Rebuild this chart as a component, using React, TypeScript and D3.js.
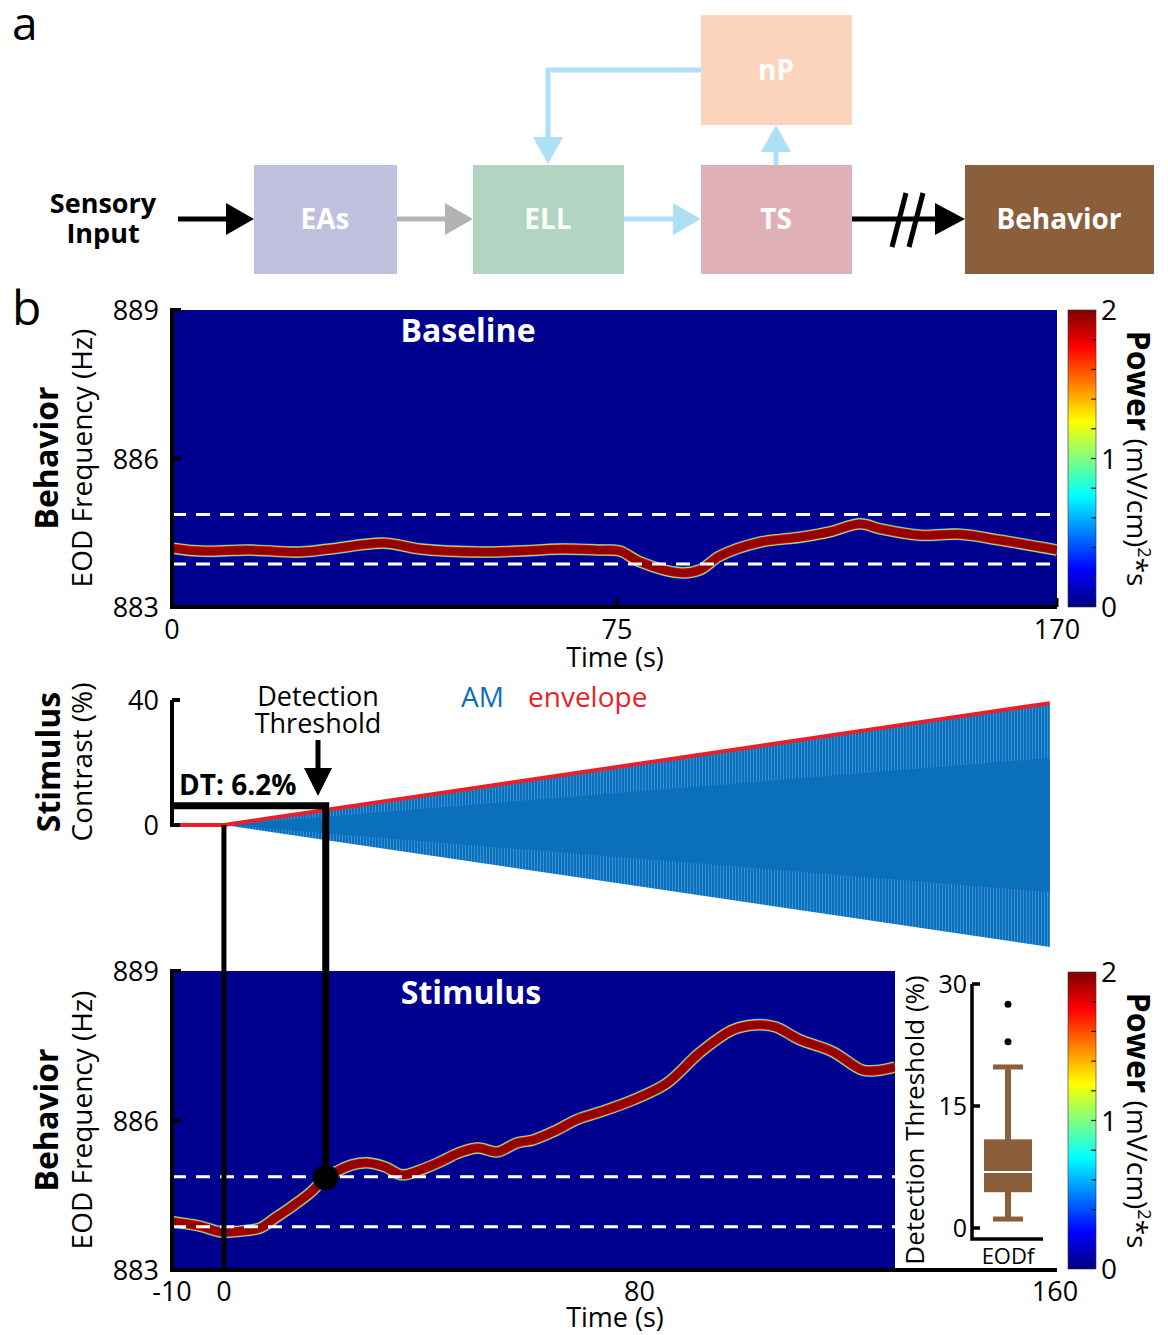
import React, { useEffect } from "react";
import * as d3 from "d3";

// ridge of the baseline spectrogram: time (s) and EOD frequency (Hz)
const baselineTime = [0, 4.7, 13.1, 21.6, 26.6, 35.9, 41.8, 51.9, 58.7, 65.4, 72.1, 75.6, 80, 88.6, 92.9, 97.2, 105.9, 114.5, 121, 127.5, 131.8, 140.4, 149.1, 157.7, 170];
const baselineFreq = [884.19, 884.13, 884.15, 884.11, 884.17, 884.29, 884.17, 884.11, 884.13, 884.17, 884.15, 884.13, 883.91, 883.69, 883.75, 884.03, 884.31, 884.41, 884.52, 884.68, 884.58, 884.45, 884.47, 884.35, 884.15];

// ridge of the stimulus spectrogram
const stimTime = [-10, -4.6, -0.4, 3.1, 6.9, 9.8, 12.9, 16.6, 19.6, 22.3, 24.7, 27.5, 31.0, 34.3, 37.9, 41.6, 45.2, 48.9, 52.6, 56.4, 59.5, 63.7, 68.0, 72.4, 78.7, 85.3, 91.6, 98.0, 102.6, 106.1, 110.9, 117.2, 123.0, 126.3, 129.2];
const stimFreq = [883.97, 883.88, 883.76, 883.78, 883.84, 884.04, 884.26, 884.55, 884.85, 885.01, 885.11, 885.15, 885.07, 884.91, 885.01, 885.17, 885.35, 885.45, 885.37, 885.55, 885.61, 885.79, 886.02, 886.17, 886.41, 886.75, 887.36, 887.82, 887.92, 887.88, 887.62, 887.38, 887.01, 887.01, 887.07];

// AM stimulus envelope (contrast %)
const envTime = [-10, 0, 159];
const envContrast = [0, 0, 39];

// detection threshold
const dtTime = 19.6;
const dtContrast = 6.2;
const dtFreq = 884.85;
const bandFreqs = [883.87, 884.87];

// inset boxplot: whisker low, q1, median, q3, whisker high
const boxValues = [1.1, 4.4, 6.9, 10.9, 19.8];
const outliers = [22.9, 27.5];

const freqTicks = [883, 886, 889];
const baseTimeTicks = [0, 75, 170];
const stimTimeTicks = [-10, 0, 80, 160];
const contrastTicks = [0, 40];
const dtTicks = [0, 15, 30];
const powerTicks = [0, 1, 2];
const powerMinor = [0.2, 0.4, 0.6, 0.8, 1, 1.2, 1.4, 1.6, 1.8];

const FONT = "'Open Sans', 'Noto Sans', sans-serif";
const SPEC_BLUE = "#00008f";

const jet: [number, string][] = [
  [0, "#00007f"], [0.125, "#0000ff"], [0.375, "#00ffff"],
  [0.625, "#ffff00"], [0.875, "#ff0000"], [1, "#7f0000"],
];

// outer -> inner strokes to fake a spectrogram ridge
const ridgeLayers = [
  { w: 12, c: "#1e90ff" },
  { w: 11, c: "#40ffd0" },
  { w: 10.2, c: "#ffe000" },
  { w: 9.4, c: "#ff2000" },
  { w: 8, c: "#940000" },
];

function Ridge({ d, clip }: { d: string; clip: string }) {
  return (
    <g clipPath={`url(#${clip})`}>
      {ridgeLayers.map((l, i) => (
        <path key={i} d={d} fill="none" stroke={l.c} strokeWidth={l.w} strokeLinejoin="round" />
      ))}
    </g>
  );
}

function Colorbar({ y, x0 }: { y: d3.ScaleLinear<number, number>; x0: number }) {
  const [b, t] = y.range();
  return (
    <g>
      <rect x={x0} y={t} width={28} height={b - t} fill="url(#jetGrad)" stroke="#333" strokeWidth={0.6} />
      {powerMinor.map((v) => (
        <line key={v} x1={x0 + 23} x2={x0 + 28} y1={y(v)} y2={y(v)} stroke="#222" strokeWidth={1.2} />
      ))}
      {powerTicks.map((v) => (
        <text key={v} x={x0 + 33} y={y(v) + 10} fontSize={28} fontFamily={FONT}>{v}</text>
      ))}
      <text transform={`translate(${x0 + 59},${(t + b) / 2}) rotate(90)`} textAnchor="middle" fontSize={28} fontFamily={FONT}>
        <tspan fontWeight="bold" fontSize={32}>Power</tspan>
        <tspan> (mV/cm)</tspan>
        <tspan fontSize={18} dy={-11}>2</tspan>
        <tspan dy={11}>*s</tspan>
      </text>
    </g>
  );
}

function Arrow({ x1, y1, x2, y2, color, w = 5, head = 28, half = 16 }: any) {
  const ang = Math.atan2(y2 - y1, x2 - x1);
  const bx = x2 - head * Math.cos(ang), by = y2 - head * Math.sin(ang);
  const px = -Math.sin(ang) * half, py = Math.cos(ang) * half;
  return (
    <g>
      <line x1={x1} y1={y1} x2={bx + Math.cos(ang) * 2} y2={by + Math.sin(ang) * 2} stroke={color} strokeWidth={w} />
      <polygon points={`${x2},${y2} ${bx + px},${by + py} ${bx - px},${by - py}`} fill={color} />
    </g>
  );
}

export default function App() {
  useEffect(() => {
    document.body.style.margin = "0";
  }, []);

  const xBase = d3.scaleLinear().domain([0, 75, 170]).range([172, 617, 1057]);
  const yBase = d3.scaleLinear().domain([883, 889]).range([607, 310]);
  const xStim = d3.scaleLinear().domain([-10, 160]).range([172, 1055]);
  const yStim = d3.scaleLinear().domain([883, 889]).range([1270, 971]);
  const yCon = d3.scaleLinear().domain([0, 40]).range([825, 700]);
  const yDT = d3.scaleLinear().domain([0, 30]).range([1228, 984]);
  const pTop = d3.scaleLinear().domain([0, 2]).range([607, 310]);
  const pBot = d3.scaleLinear().domain([0, 2]).range([1269, 972]);

  const baseLine = d3.line<number>()
    .x((_, i) => xBase(baselineTime[i]))
    .y((d) => yBase(d))
    .curve(d3.curveCatmullRom.alpha(0.5))(baselineFreq) as string;
  const stimLine = d3.line<number>()
    .x((_, i) => xStim(stimTime[i]))
    .y((d) => yStim(d))
    .curve(d3.curveCatmullRom.alpha(0.5))(stimFreq) as string;

  const amIdx = d3.range(1, envTime.length);
  const amArea = d3.area<number>()
    .x((i) => xStim(envTime[i]))
    .y0((i) => yCon(-envContrast[i]))
    .y1((i) => yCon(envContrast[i]))(amIdx) as string;
  const amCore = d3.area<number>()
    .x((i) => xStim(envTime[i]))
    .y0((i) => yCon(-envContrast[i] * 0.55))
    .y1((i) => yCon(envContrast[i] * 0.55))(amIdx) as string;
  const envLine = d3.line<number>()
    .x((_, i) => xStim(envTime[i]))
    .y((d) => yCon(d))(envContrast) as string;

  const [bLo, bQ1, bMed, bQ3, bHi] = boxValues;
  const boxX = 1008;

  const tick = { fontSize: 27, fontFamily: FONT } as const;

  return (
    <svg width={1168} height={1335} style={{ display: "block", background: "#fff" }}>
      <defs>
        <linearGradient id="jetGrad" x1="0" y1="1" x2="0" y2="0">
          {jet.map(([o, c]) => <stop key={o} offset={o} stopColor={c} />)}
        </linearGradient>
        <pattern id="amStripe" width={3} height={10} patternUnits="userSpaceOnUse">
          <rect width={3} height={10} fill="#0a70bc" />
          <rect width={1} height={10} fill="#3a90d0" />
        </pattern>
        <clipPath id="clipTop">
          <rect x={172} y={310} width={885} height={297} />
        </clipPath>
        <clipPath id="clipBot">
          <rect x={172} y={971} width={723} height={299} />
        </clipPath>
      </defs>

      {/* ---------- panel a ---------- */}
      <text x={12} y={40} fontSize={46} fontFamily={FONT}>a</text>

      <rect x={701} y={15} width={151} height={110} fill="#fcd3bc" />
      <rect x={254} y={165} width={143} height={109} fill="#bfc0de" />
      <rect x={473} y={165} width={151} height={109} fill="#b3d3c3" />
      <rect x={701} y={165} width={151} height={109} fill="#dfb1b7" />
      <rect x={965} y={165} width={189} height={109} fill="#8b5e3c" />

      <g fontFamily={FONT} fontWeight="bold" fontSize={28} fill="#fff" textAnchor="middle">
        <text x={776} y={80}>nP</text>
        <text x={325} y={229}>EAs</text>
        <text x={548} y={229}>ELL</text>
        <text x={776} y={229}>TS</text>
        <text x={1059} y={229}>Behavior</text>
      </g>
      <g fontFamily={FONT} fontWeight="bold" fontSize={27} textAnchor="middle">
        <text x={103} y={213}>Sensory</text>
        <text x={103} y={243}>Input</text>
      </g>

      <Arrow x1={178} y1={219} x2={254} y2={219} color="#000" />
      <Arrow x1={397} y1={219} x2={473} y2={219} color="#b3b3b3" />
      <Arrow x1={624} y1={219} x2={701} y2={219} color="#aee0f5" />
      <Arrow x1={776} y1={165} x2={776} y2={125} color="#aee0f5" head={27} half={15} />
      <path d="M701,70 H548 V140" fill="none" stroke="#aee0f5" strokeWidth={5} />
      <Arrow x1={548} y1={135} x2={548} y2={164} color="#aee0f5" head={27} half={15} />
      <Arrow x1={852} y1={219} x2={965} y2={219} color="#000" head={30} half={16} />
      <line x1={892} y1={247} x2={906} y2={193} stroke="#000" strokeWidth={5} />
      <line x1={909} y1={247} x2={923} y2={193} stroke="#000" strokeWidth={5} />

      {/* ---------- panel b ---------- */}
      <text x={12} y={325} fontSize={48} fontFamily={FONT}>b</text>

      {/* baseline spectrogram */}
      <rect x={172} y={310} width={885} height={297} fill={SPEC_BLUE} />
      <Ridge d={baseLine} clip="clipTop" />
      {bandFreqs.map((f) => (
        <line key={f} x1={172} x2={1057} y1={yBase(f)} y2={yBase(f)} stroke="#fff" strokeWidth={3} strokeDasharray="14 10" />
      ))}
      <text x={468} y={342} textAnchor="middle" fill="#fff" fontWeight="bold" fontSize={32} fontFamily={FONT}>Baseline</text>
      <path d={`M172,308 V607 H1057`} fill="none" stroke="#000" strokeWidth={4} />
      {freqTicks.slice(1).map((f) => (
        <line key={f} x1={172} x2={181} y1={yBase(f)} y2={yBase(f)} stroke="#000" strokeWidth={4} />
      ))}
      {baseTimeTicks.slice(1).map((t) => (
        <line key={t} x1={xBase(t)} x2={xBase(t)} y1={607} y2={598} stroke="#000" strokeWidth={3} />
      ))}
      {freqTicks.map((f) => (
        <text key={f} x={159} y={yBase(f) + 10} textAnchor="end" {...tick}>{f}</text>
      ))}
      {baseTimeTicks.map((t) => (
        <text key={t} x={xBase(t)} y={639} textAnchor="middle" {...tick}>{t}</text>
      ))}
      <text x={615} y={667} textAnchor="middle" {...tick}>Time (s)</text>
      <text transform={`translate(58,458) rotate(-90)`} textAnchor="middle" fontWeight="bold" fontSize={32} fontFamily={FONT}>Behavior</text>
      <text transform={`translate(92,458) rotate(-90)`} textAnchor="middle" fontSize={28} fontFamily={FONT}>EOD Frequency (Hz)</text>
      <Colorbar y={pTop} x0={1068} />

      {/* stimulus */}
      <path d={amArea} fill="url(#amStripe)" />
      <path d={amCore} fill="#0a70bc" />
      <path d={envLine} fill="none" stroke="#ea1f29" strokeWidth={4} />
      <path d={`M172,${yCon(40)} V${yCon(0) + 2}`} fill="none" stroke="#000" strokeWidth={4} />
      {contrastTicks.map((c) => (
        <line key={c} x1={172} x2={180} y1={yCon(c)} y2={yCon(c)} stroke="#000" strokeWidth={4} />
      ))}
      {contrastTicks.map((c) => (
        <text key={c} x={159} y={yCon(c) + 10} textAnchor="end" {...tick}>{c}</text>
      ))}
      <text transform={`translate(60,762) rotate(-90)`} textAnchor="middle" fontWeight="bold" fontSize={32} fontFamily={FONT}>Stimulus</text>
      <text transform={`translate(92,762) rotate(-90)`} textAnchor="middle" fontSize={28} fontFamily={FONT}>Contrast (%)</text>
      <g fontSize={27} fontFamily={FONT}>
        <text x={318} y={706} textAnchor="middle">Detection</text>
        <text x={318} y={733} textAnchor="middle">Threshold</text>
      </g>
      <g fontSize={28} fontFamily={FONT}>
        <text x={461} y={707} fill="#0a70bc">AM</text>
        <text x={528} y={707} fill="#ea1f29">envelope</text>
      </g>
      <text x={179} y={795} fontWeight="bold" fontSize={28} fontFamily={FONT}>DT: 6.2%</text>
      <Arrow x1={318} y1={740} x2={318} y2={796} color="#000" head={28} half={14} w={5} />

      {/* stimulus spectrogram */}
      <rect x={172} y={971} width={723} height={299} fill={SPEC_BLUE} />
      <Ridge d={stimLine} clip="clipBot" />
      {bandFreqs.map((f) => (
        <line key={f} x1={172} x2={895} y1={yStim(f)} y2={yStim(f)} stroke="#fff" strokeWidth={3} strokeDasharray="14 10" />
      ))}
      <text x={471} y={1004} textAnchor="middle" fill="#fff" fontWeight="bold" fontSize={32} fontFamily={FONT}>Stimulus</text>
      <path d={`M172,969 V1270 H1057`} fill="none" stroke="#000" strokeWidth={4} />
      {freqTicks.slice(1).map((f) => (
        <line key={f} x1={172} x2={181} y1={yStim(f)} y2={yStim(f)} stroke="#000" strokeWidth={4} />
      ))}
      {freqTicks.map((f) => (
        <text key={f} x={159} y={yStim(f) + 10} textAnchor="end" {...tick}>{f}</text>
      ))}
      {stimTimeTicks.map((t) => (
        <text key={t} x={xStim(t)} y={1301} textAnchor="middle" {...tick}>{t}</text>
      ))}
      <text x={615} y={1327} textAnchor="middle" {...tick}>Time (s)</text>
      <text transform={`translate(58,1120) rotate(-90)`} textAnchor="middle" fontWeight="bold" fontSize={32} fontFamily={FONT}>Behavior</text>
      <text transform={`translate(92,1120) rotate(-90)`} textAnchor="middle" fontSize={28} fontFamily={FONT}>EOD Frequency (Hz)</text>
      <Colorbar y={pBot} x0={1068} />

      {/* threshold connectors */}
      <line x1={xStim(0)} x2={xStim(0)} y1={yCon(0)} y2={1270} stroke="#000" strokeWidth={5} />
      <path d={`M172,${yCon(dtContrast)} H${xStim(dtTime)} V${yStim(dtFreq)}`} fill="none" stroke="#000" strokeWidth={7} />
      <circle cx={xStim(dtTime)} cy={yStim(dtFreq)} r={13} fill="#000" />

      {/* inset boxplot */}
      <text transform={`translate(924,1120) rotate(-90)`} textAnchor="middle" fontSize={26} fontFamily={FONT}>Detection Threshold (%)</text>
      <path d={`M972,${yDT(30)} V1239 H1043`} fill="none" stroke="#000" strokeWidth={3.5} />
      {dtTicks.map((v) => (
        <g key={v}>
          <line x1={972} x2={980} y1={yDT(v)} y2={yDT(v)} stroke="#000" strokeWidth={3.5} />
          <text x={967} y={yDT(v) + 9} textAnchor="end" fontSize={25} fontFamily={FONT}>{v}</text>
        </g>
      ))}
      <line x1={boxX} x2={boxX} y1={yDT(bLo)} y2={yDT(bHi)} stroke="#8b5e3c" strokeWidth={6} />
      <line x1={boxX - 15} x2={boxX + 15} y1={yDT(bLo)} y2={yDT(bLo)} stroke="#8b5e3c" strokeWidth={5} />
      <line x1={boxX - 15} x2={boxX + 15} y1={yDT(bHi)} y2={yDT(bHi)} stroke="#8b5e3c" strokeWidth={5} />
      <rect x={boxX - 24} y={yDT(bQ3)} width={48} height={yDT(bQ1) - yDT(bQ3)} fill="#8b5e3c" />
      <line x1={boxX - 24} x2={boxX + 24} y1={yDT(bMed)} y2={yDT(bMed)} stroke="#fff" strokeWidth={2} />
      {outliers.map((v) => (
        <circle key={v} cx={boxX} cy={yDT(v)} r={3.5} fill="#000" />
      ))}
      <text x={boxX} y={1264} textAnchor="middle" fontSize={22} fontFamily={FONT}>EODf</text>
    </svg>
  );
}
